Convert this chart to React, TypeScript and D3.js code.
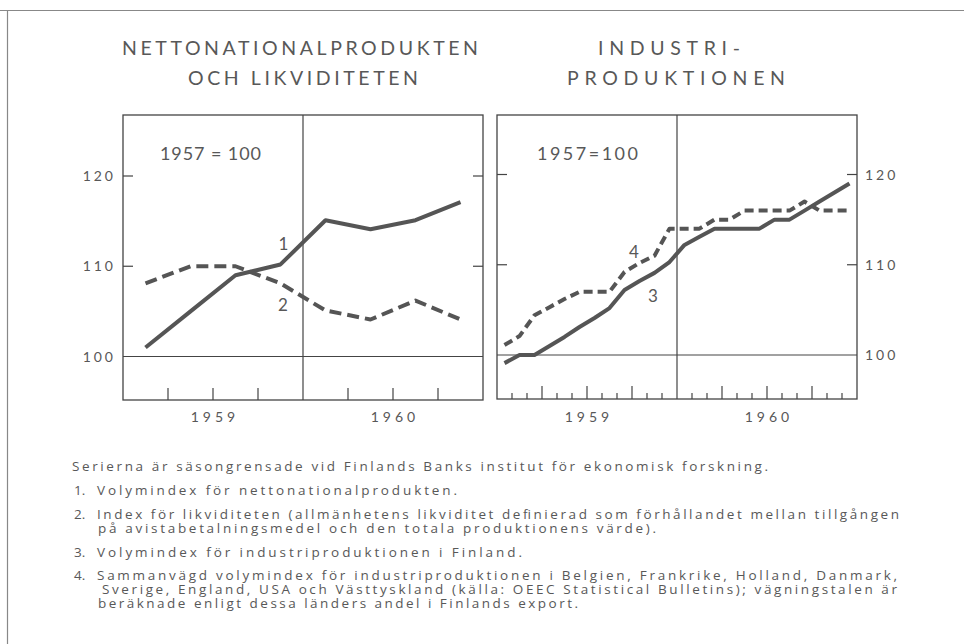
import React from 'react'
import * as d3 from 'd3'

// vänstra diagrammet: kvartal 1959-1960
const quarters = ['1959 I', '1959 II', '1959 III', '1959 IV', '1960 I', '1960 II', '1960 III', '1960 IV']
const nettonational = [101, 105, 109, 110.2, 115.1, 114.1, 115.1, 117.1]
const likviditet = [108.1, 110, 110, 108.1, 105.1, 104.1, 106.2, 104.1]

// högra diagrammet: månader 1959-1960
const months = [
  '1959-01', '1959-02', '1959-03', '1959-04', '1959-05', '1959-06',
  '1959-07', '1959-08', '1959-09', '1959-10', '1959-11', '1959-12',
  '1960-01', '1960-02', '1960-03', '1960-04', '1960-05', '1960-06',
  '1960-07', '1960-08', '1960-09', '1960-10', '1960-11', '1960-12',
]
const industriFinland = [99.1, 100, 100, 101, 102, 103.1, 104.1, 105.2, 107.2, 108.2, 109.1, 110.3,
  112.2, 113.1, 114, 114, 114, 114, 115, 115, 116, 117, 118, 119]
const industriUtland = [101.1, 102.1, 104.4, 105.3, 106.2, 107, 107, 107, 109.2, 110.2, 111, 114,
  114, 114, 115, 115, 116, 116, 116, 116, 117, 116, 116, 116]

const years = ['1959', '1960']
const yTicks = [100, 110, 120]

const ink = '#585858'
const font = 'Lato, "Open Sans", "DejaVu Sans", sans-serif'
const noteFont = '"Open Sans", Lato, sans-serif'

const notes = [
  { num: '', text: 'Serierna är säsongrensade vid Finlands Banks institut för ekonomisk forskning.', x: 72, end: 768, y: 470.5 },
  { num: '1.', text: 'Volymindex för nettonationalprodukten.', x: 97, end: 457, y: 495 },
  { num: '2.', text: 'Index för likviditeten (allmänhetens likviditet definierad som förhållandet mellan tillgången', x: 97, end: 899, y: 518.5 },
  { num: '', text: 'på avistabetalningsmedel och den totala produktionens värde).', x: 98, end: 656, y: 532.5 },
  { num: '3.', text: 'Volymindex för industriproduktionen i Finland.', x: 97, end: 522, y: 556.5 },
  { num: '4.', text: 'Sammanvägd volymindex för industriproduktionen i Belgien, Frankrike, Holland, Danmark,', x: 97, end: 897, y: 579.5 },
  { num: '', text: 'Sverige, England, USA och Västtyskland (källa: OEEC Statistical Bulletins); vägningstalen är', x: 102, end: 897, y: 593.5 },
  { num: '', text: 'beräknade enligt dessa länders andel i Finlands export.', x: 98, end: 578, y: 607.5 },
]

type Line = { values: number[]; dash?: string }
type Tag = { text: string; x: number; y: number }

function Panel({ cats, left, right, top, bottom, yRange, lines, monthly, labelSide, note, noteX, noteLen, tags }:
  { cats: string[]; left: number; right: number; top: number; bottom: number; yRange: [number, number];
    lines: Line[]; monthly: boolean; labelSide: 'left' | 'right'; note: string; noteX: number; noteLen: number; tags: Tag[] }) {
  const x = d3.scaleBand<string>().domain(cats).range([left, right])
  const y = d3.scaleLinear().domain([100, 120]).range(yRange)
  const half = cats.length / 2
  const mid = x(cats[half])!
  const path = d3.line<number>()
    .x((_, i) => x(cats[i])! + x.bandwidth() / 2)
    .y(d => y(d))

  const bottomTicks = cats.slice(1).map((c, k) => ({ i: k + 1, pos: x(c)! }))
    .filter(t => t.i !== half)
    .map(t => ({ pos: t.pos, len: monthly ? (t.i % 3 === 0 ? 13 : 6) : 12 }))

  return (
    <g>
      <rect x={left} y={top} width={right - left} height={bottom - top} fill="none" stroke="#444" strokeWidth={1.3} />
      <line x1={mid} x2={mid} y1={top} y2={bottom} stroke="#444" strokeWidth={1.2} />
      <line x1={left} x2={right} y1={y(100)} y2={y(100)} stroke="#444" strokeWidth={1.2} />
      {yTicks.filter(t => t !== 100).map(t => (
        <g key={t}>
          <line x1={left} x2={left + 10} y1={y(t)} y2={y(t)} stroke="#444" strokeWidth={1.2} />
          <line x1={right - 10} x2={right} y1={y(t)} y2={y(t)} stroke="#444" strokeWidth={1.2} />
        </g>
      ))}
      {bottomTicks.map((t, i) => (
        <line key={i} x1={t.pos} x2={t.pos} y1={bottom} y2={bottom - t.len} stroke="#444" strokeWidth={1.2} />
      ))}
      {yTicks.map(t => (
        <text key={t} x={labelSide === 'left' ? left - 7 : right + 8} y={y(t)} dy="0.36em"
          textAnchor={labelSide === 'left' ? 'end' : 'start'} fontSize={14} letterSpacing={3}
          fill={ink} fontFamily={font}>{t}</text>
      ))}
      {years.map((yr, i) => (
        <text key={yr} x={x(cats[i * half])! + (x.bandwidth() * half) / 2 + 2} y={421.5} textAnchor="middle"
          fontSize={14} letterSpacing={4} fill={ink} fontFamily={font}>{yr}</text>
      ))}
      {lines.map((l, i) => (
        <path key={i} d={path(l.values)!} fill="none" stroke="#555" strokeWidth={4}
          strokeDasharray={l.dash} strokeLinejoin="round" />
      ))}
      <text x={noteX} y={160} fontSize={18} textLength={noteLen} lengthAdjust="spacing" fill={ink} fontFamily={font}>{note}</text>
      {tags.map(t => (
        <text key={t.text} x={t.x} y={t.y} textAnchor="middle" fontSize={17} fill={ink} fontFamily={font}>{t.text}</text>
      ))}
    </g>
  )
}

export default function App() {
  return (
    <div style={{ position: 'fixed', left: 0, top: 0, width: 964, height: 644, background: '#fff' }}>
      <svg width={964} height={644} style={{ display: 'block' }}>
        <rect width={964} height={644} fill="#fff" />
        <line x1={0} x2={964} y1={10.5} y2={10.5} stroke="#888" strokeWidth={1.2} />
        <line x1={7.5} x2={7.5} y1={10} y2={644} stroke="#888" strokeWidth={1.2} />

        <g fill={ink} fontFamily={font} fontSize={19.5}>
          <text x={122} y={55} textLength={356} lengthAdjust="spacing">NETTONATIONALPRODUKTEN</text>
          <text x={188} y={85} textLength={230} lengthAdjust="spacing">OCH LIKVIDITETEN</text>
          <text x={598} y={55} textLength={142} lengthAdjust="spacing">INDUSTRI-</text>
          <text x={567} y={85} textLength={218} lengthAdjust="spacing">PRODUKTIONEN</text>
        </g>

        <Panel cats={quarters} left={123} right={483} top={115} bottom={400} yRange={[356.5, 176]}
          lines={[{ values: nettonational }, { values: likviditet, dash: '12 6' }]}
          monthly={false} labelSide="left" note="1957 = 100" noteX={160} noteLen={101}
          tags={[{ text: '1', x: 283.5, y: 250 }, { text: '2', x: 283, y: 311 }]} />

        <Panel cats={months} left={497} right={857} top={115} bottom={399} yRange={[355, 174.5]}
          lines={[{ values: industriFinland }, { values: industriUtland, dash: '9 5' }]}
          monthly={true} labelSide="right" note="1957=100" noteX={537} noteLen={101}
          tags={[{ text: '4', x: 634, y: 258 }, { text: '3', x: 653, y: 302 }]} />

        <g fill={ink} fontFamily={noteFont} fontSize={13.5}>
          {notes.map((n, i) => (
            <g key={i}>
              {n.num && <text x={74} y={n.y}>{n.num}</text>}
              <text x={n.x} y={n.y} textLength={n.end - n.x} lengthAdjust="spacing">{n.text}</text>
            </g>
          ))}
        </g>
      </svg>
    </div>
  )
}
